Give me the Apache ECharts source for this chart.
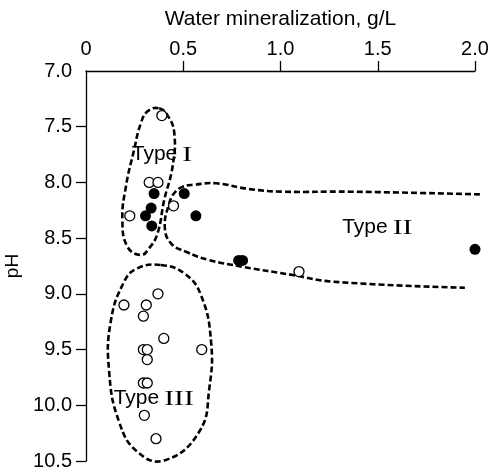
<!DOCTYPE html>
<html><head><meta charset="utf-8">
<script src="https://cdn.jsdelivr.net/npm/echarts@6/dist/echarts.min.js"></script>
<style>html,body{margin:0;padding:0;background:#fff}#c{width:491px;height:472px}</style>
</head><body><div id="c"></div>
<script>
// Axis ticks
var xTicks = [0, 0.5, 1.0, 1.5, 2.0];
var yTicks = [7.0, 7.5, 8.0, 8.5, 9.0, 9.5, 10.0, 10.5];

// Open circles (mineralization g/L, pH)
var openX = [0.39, 0.325, 0.37, 0.45, 0.225, 1.095, 0.195, 0.37, 0.31, 0.295, 0.40, 0.595, 0.295, 0.315, 0.315, 0.295, 0.315, 0.30, 0.36];
var openY = [7.40, 8.0, 8.0, 8.21, 8.30, 8.80, 9.10, 9.0, 9.10, 9.20, 9.40, 9.50, 9.50, 9.50, 9.59, 9.80, 9.80, 10.09, 10.30];

// Filled circles
var fillX = [0.35, 0.505, 0.335, 0.306, 0.338, 0.565, 0.785, 0.805, 2.0];
var fillY = [8.10, 8.10, 8.23, 8.30, 8.39, 8.30, 8.70, 8.70, 8.60];

// Group envelopes (dashed outlines), in data coordinates
var envIX = [0.376, 0.420, 0.454, 0.445, 0.402, 0.368, 0.325, 0.282, 0.213, 0.187, 0.205, 0.247, 0.282, 0.318];
var envIY = [7.335, 7.40, 7.557, 7.859, 8.158, 8.457, 8.59, 8.652, 8.577, 8.338, 8.039, 7.709, 7.469, 7.36];
var envIIX = [2.025, 1.356, 1.012, 0.840, 0.669, 0.557, 0.496, 0.454, 0.428, 0.405, 0.437, 0.514, 0.634, 0.806, 1.063, 1.270, 1.948];
var envIIY = [8.107, 8.083, 8.083, 8.06, 8.008, 8.02, 8.04, 8.095, 8.188, 8.398, 8.547, 8.622, 8.697, 8.757, 8.831, 8.891, 8.945];
var envIIIX = [0.385, 0.505, 0.591, 0.643, 0.634, 0.582, 0.402, 0.264, 0.170, 0.119, 0.127, 0.196, 0.264];
var envIIIY = [8.741, 8.816, 9.011, 9.430, 9.848, 10.238, 10.495, 10.417, 10.148, 9.699, 9.250, 8.891, 8.771];

// Group labels: anchor = gap between the word "Type" and the Roman numeral
var labelWord = 'Type';
var labelNum = ['I', 'II', 'III'];
var labelX = [0.482, 1.564, 0.389];
var labelY = [7.745, 8.40, 9.94];

function zip(a, b) { return a.map(function (v, i) { return [v, b[i]]; }); }

var dashStyle = { fill: 'none', stroke: '#000', lineWidth: 2.6, lineDash: [6, 3] };

function envSeries(xs, ys, closed) {
  var pts = zip(xs, ys);
  return {
    type: 'custom', z: 1, silent: true, clip: false,
    data: [[0, 0]],
    renderItem: function (params, api) {
      return {
        type: closed ? 'polygon' : 'polyline',
        shape: { points: pts.map(function (p) { return api.coord(p); }), smooth: 0.45 },
        style: dashStyle
      };
    }
  };
}

var font = '"Liberation Sans", Arial, sans-serif';
var serif = '"Liberation Serif", "Times New Roman", serif';

var chart = echarts.init(document.getElementById('c'), null, { renderer: 'canvas' });
chart.setOption({
  animation: false,
  backgroundColor: '#fff',
  grid: { left: 86, right: 16, top: 71, bottom: 11, containLabel: false, outerBoundsMode: 'none' },
  xAxis: {
    type: 'value', position: 'top', min: 0, max: 2, interval: 0.5,
    name: 'Water mineralization, g/L', nameLocation: 'middle', nameGap: 41,
    nameTextStyle: { color: '#000', fontSize: 21, fontFamily: font },
    axisLine: { show: true, lineStyle: { color: '#000', width: 1.3 } },
    axisTick: { show: true, inside: false, length: 10, lineStyle: { color: '#000', width: 1.3 }, customValues: xTicks.slice(1) },
    axisLabel: { color: '#000', fontSize: 20, fontFamily: font, margin: 12,
      formatter: function (v) { return v === 0 ? '0' : v.toFixed(1); } },
    splitLine: { show: false }
  },
  yAxis: {
    type: 'value', inverse: true, min: 7, max: 10.5, interval: 0.5,
    name: 'pH', nameLocation: 'middle', nameGap: 53, nameRotate: 90,
    nameTextStyle: { color: '#000', fontSize: 19, fontFamily: font },
    axisLine: { show: true, lineStyle: { color: '#000', width: 1.3 } },
    axisTick: { show: true, inside: false, length: 10, lineStyle: { color: '#000', width: 1.3 }, customValues: yTicks.slice(1) },
    axisLabel: { color: '#000', fontSize: 20, fontFamily: font, margin: 14,
      formatter: function (v) { return v.toFixed(1); } },
    splitLine: { show: false }
  },
  series: [
    envSeries(envIX, envIY, true),
    envSeries(envIIX, envIIY, false),
    envSeries(envIIIX, envIIIY, true),
    {
      type: 'scatter', z: 3, clip: false, symbol: 'circle', symbolSize: 11,
      itemStyle: { color: '#000', borderColor: '#000', borderWidth: 0, opacity: 1 },
      data: zip(fillX, fillY)
    },
    {
      type: 'scatter', z: 4, clip: false, symbol: 'circle', symbolSize: 10,
      itemStyle: { color: '#fff', borderColor: '#000', borderWidth: 1.3, opacity: 1 },
      data: zip(openX, openY)
    },
    {
      type: 'custom', z: 5, clip: false, silent: true,
      data: labelX.map(function (x, i) { return [x, labelY[i], i]; }),
      renderItem: function (params, api) {
        var c = api.coord([api.value(0), api.value(1)]);
        var i = api.value(2);
        return {
          type: 'group',
          children: [
            { type: 'text', x: c[0] - 2.5, y: c[1],
              style: { text: labelWord, fontFamily: font, fontSize: 21, fill: '#000', align: 'right', verticalAlign: 'middle' } },
            { type: 'text', x: c[0] + 2.5, y: c[1] + 1, scaleX: 1.35,
              style: { text: labelNum[i], fontFamily: serif, fontSize: 22, fill: '#000', align: 'left', verticalAlign: 'middle' } }
          ]
        };
      }
    }
  ]
});
</script>
</body></html>
